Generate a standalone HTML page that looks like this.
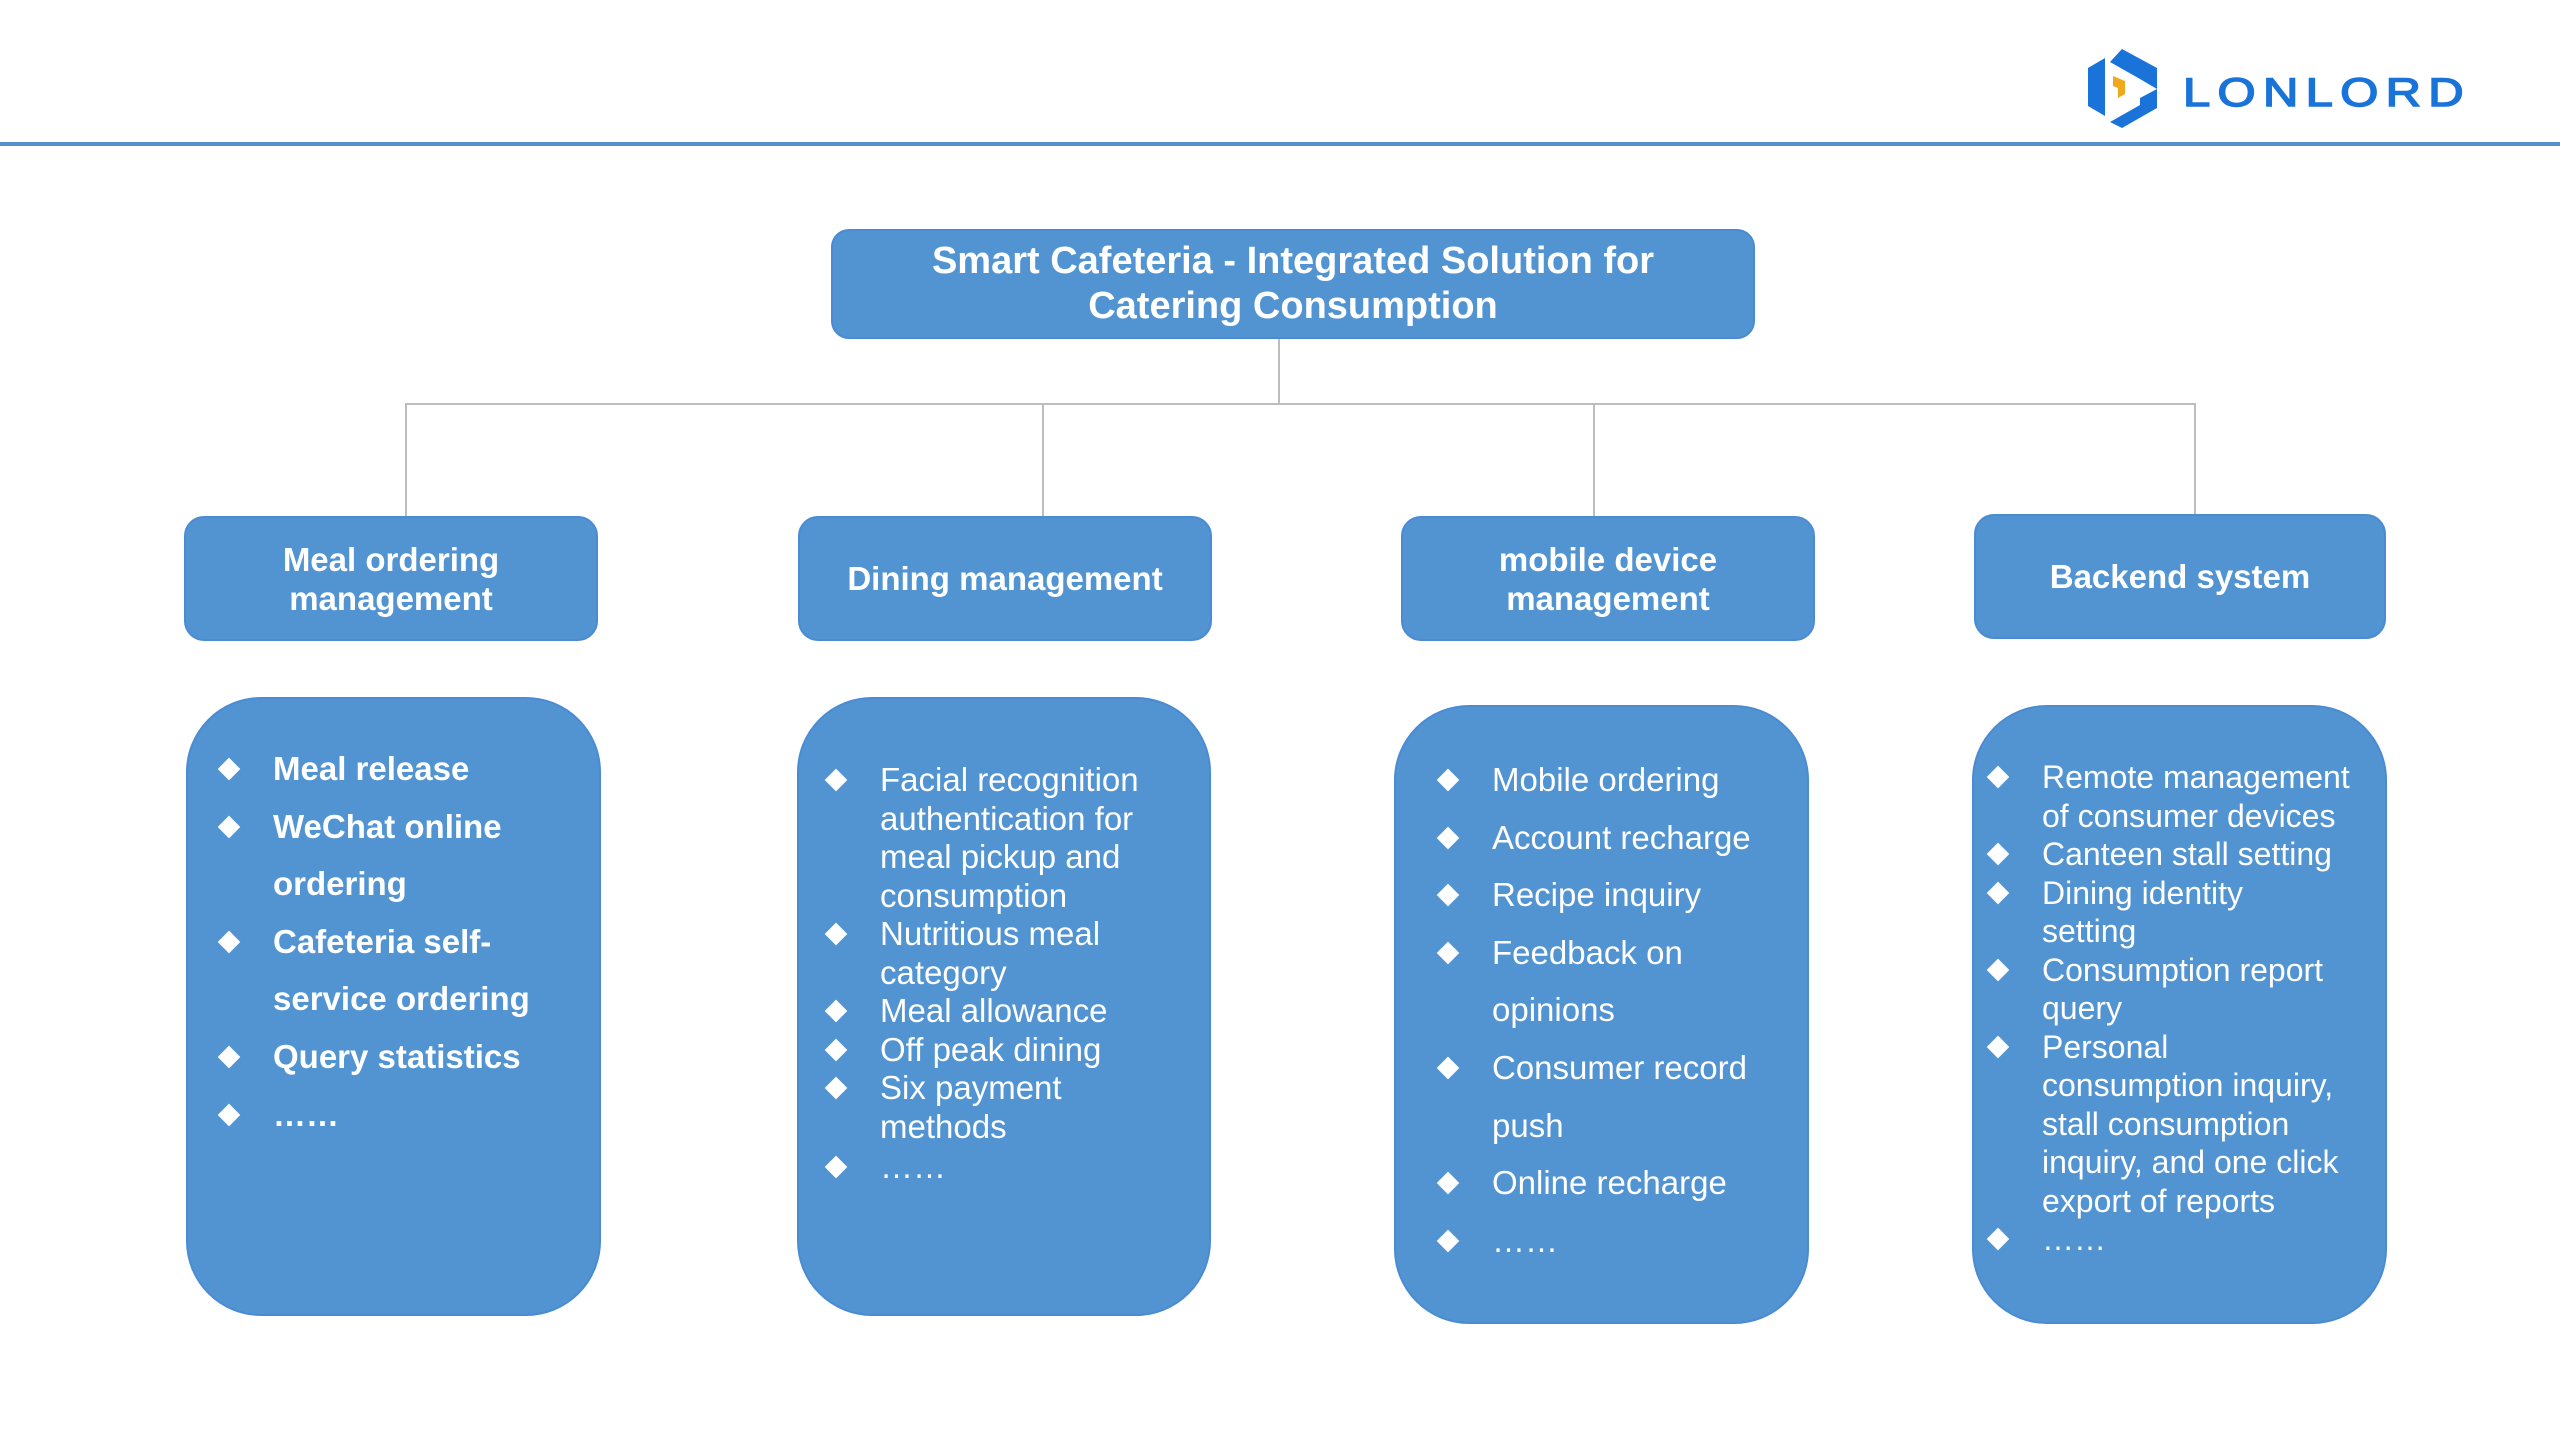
<!DOCTYPE html>
<html><head><meta charset="utf-8"><style>
*{margin:0;padding:0;box-sizing:border-box}
body{width:2560px;height:1440px;background:#fff;position:relative;overflow:hidden;font-family:"Liberation Sans",sans-serif;color:#fff}
.abs{position:absolute}
.box{position:absolute;background:#5194d1;border:2px solid #4a8bd3;display:flex;align-items:center;justify-content:center;text-align:center;font-weight:bold}
.ln{position:absolute;background:#bdbdbd}
.list{position:absolute;white-space:nowrap}
.list div{position:relative}
.list div.b::before{content:"";position:absolute;width:16px;height:16px;background:#fff;transform:rotate(45deg)}
</style></head><body>
<div class="abs" style="left:0;top:142px;width:2560px;height:4px;background:#5391c6"></div>
<svg class="abs" style="left:2085px;top:46px" width="400" height="90" viewBox="0 0 400 90">
<polygon points="37,3 72,22 72,43 55,33 25,16" fill="#1a73d9"/>
<polygon points="3,22 20,12 20,70 3,60" fill="#1a73d9"/>
<polygon points="25,76 55,59 55,52 72,43 72,62 37,82" fill="#1a73d9"/>
<polygon points="28,30 40,35 40,48 33,52 33,42 28,40" fill="#f0a91c"/>
<text x="98" y="60" font-family="Liberation Sans" font-size="40" fill="#1a73d9" stroke="#1a73d9" stroke-width="1.5" letter-spacing="6" textLength="288" lengthAdjust="spacingAndGlyphs">LONLORD</text>
</svg>
<div class="box" style="left:831px;top:229px;width:924px;height:110px;border-radius:18px;font-size:38px;line-height:45px">Smart Cafeteria - Integrated Solution for<br>Catering Consumption</div>
<div class="ln" style="left:1278px;top:339px;width:2px;height:64px"></div>
<div class="ln" style="left:405px;top:403px;width:1791px;height:2px"></div>
<div class="ln" style="left:405px;top:403px;width:2px;height:113px"></div>
<div class="ln" style="left:1042px;top:403px;width:2px;height:113px"></div>
<div class="ln" style="left:1593px;top:403px;width:2px;height:113px"></div>
<div class="ln" style="left:2194px;top:403px;width:2px;height:112px"></div>
<div class="box" style="left:184px;top:516px;width:414px;height:125px;border-radius:20px;font-size:33px;line-height:39px">Meal ordering<br>management</div>
<div class="box" style="left:798px;top:516px;width:414px;height:125px;border-radius:20px;font-size:33px">Dining management</div>
<div class="box" style="left:1401px;top:516px;width:414px;height:125px;border-radius:20px;font-size:33px;line-height:39px">mobile device<br>management</div>
<div class="box" style="left:1974px;top:514px;width:412px;height:125px;border-radius:20px;font-size:33px">Backend system</div>

<div class="box" style="left:186px;top:697px;width:415px;height:619px;border-radius:75px"></div>
<div class="box" style="left:797px;top:697px;width:414px;height:619px;border-radius:75px"></div>
<div class="box" style="left:1394px;top:705px;width:415px;height:619px;border-radius:75px"></div>
<div class="box" style="left:1972px;top:705px;width:415px;height:619px;border-radius:75px"></div>

<style>
.l1 div{padding-left:44px;line-height:57.6px}
.l1 div.b::before{left:-8px;top:21px}
.l2 div{padding-left:44px;line-height:38.5px}
.l2 div.b::before{left:-8px;top:11px}
</style>
<div class="list l1" style="left:229px;top:740px;font-size:33px;font-weight:bold">
<div class="b">Meal release</div>
<div class="b">WeChat online</div>
<div>ordering</div>
<div class="b">Cafeteria self-</div>
<div>service ordering</div>
<div class="b">Query statistics</div>
<div class="b">……</div>
</div>
<div class="list l2" style="left:836px;top:761px;font-size:33px">
<div class="b">Facial recognition</div>
<div>authentication for</div>
<div>meal pickup and</div>
<div>consumption</div>
<div class="b">Nutritious meal</div>
<div>category</div>
<div class="b">Meal allowance</div>
<div class="b">Off peak dining</div>
<div class="b">Six payment</div>
<div>methods</div>
<div class="b" style="margin-top:2px">……</div>
</div>
<div class="list l1" style="left:1448px;top:751px;font-size:33px">
<div class="b">Mobile ordering</div>
<div class="b">Account recharge</div>
<div class="b">Recipe inquiry</div>
<div class="b">Feedback on</div>
<div>opinions</div>
<div class="b">Consumer record</div>
<div>push</div>
<div class="b">Online recharge</div>
<div class="b">……</div>
</div>
<div class="list l2" style="left:1998px;top:758px;font-size:32px">
<div class="b">Remote management</div>
<div>of consumer devices</div>
<div class="b">Canteen stall setting</div>
<div class="b">Dining identity</div>
<div>setting</div>
<div class="b">Consumption report</div>
<div>query</div>
<div class="b">Personal</div>
<div>consumption inquiry,</div>
<div>stall consumption</div>
<div>inquiry, and one click</div>
<div>export of reports</div>
<div class="b">……</div>
</div>
</body></html>
